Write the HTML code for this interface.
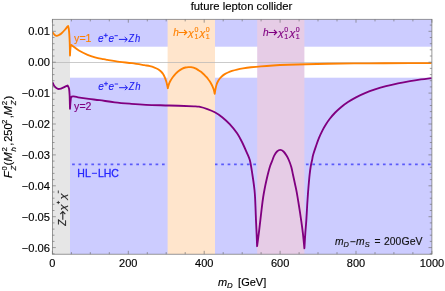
<!DOCTYPE html>
<html><head><meta charset="utf-8"><title>future lepton collider</title>
<style>
html,body{margin:0;padding:0;background:#fff;}
body{width:445px;height:291px;overflow:hidden;font-family:"Liberation Sans",sans-serif;}
svg{display:block;will-change:transform;}
text{stroke-width:0.15px;paint-order:stroke;font-family:"Liberation Sans",sans-serif;}
.i{font-style:italic;}
</style></head><body>
<svg width="445" height="291" viewBox="0 0 445 291">
<rect x="0" y="0" width="445" height="291" fill="#ffffff"/>

<rect x="52.4" y="19.3" width="17.6" height="234.9" fill="#e6e6e6"/>
<rect x="70.0" y="19.3" width="361.9" height="27.4" fill="#ccccff"/>
<rect x="70.0" y="77.7" width="361.9" height="176.5" fill="#ccccff"/>
<line x1="72.1" y1="164.4" x2="167.6" y2="164.4" stroke="#5a5afa" stroke-width="1.7" stroke-dasharray="2.7 3.72"/>
<line x1="214.8" y1="164.4" x2="257.2" y2="164.4" stroke="#5a5afa" stroke-width="1.7" stroke-dasharray="2.7 3.72"/>
<line x1="305.9" y1="164.4" x2="431.9" y2="164.4" stroke="#5a5afa" stroke-width="1.7" stroke-dasharray="2.7 3.72"/>
<rect x="167.6" y="19.3" width="47.4" height="234.9" fill="#ffe5cc"/>
<rect x="257.2" y="19.3" width="47.2" height="234.9" fill="#e6cce6"/>
<line x1="52.4" y1="62.5" x2="431.9" y2="62.5" stroke="#b4b4b4" stroke-width="0.7"/>
<clipPath id="pc"><rect x="52.4" y="19.3" width="379.5" height="234.9"/></clipPath><g clip-path="url(#pc)">
<path d="M52.40,32.00 C52.58,32.27 53.07,33.07 53.50,33.60 C53.93,34.13 54.47,34.83 55.00,35.20 C55.53,35.57 56.03,35.83 56.70,35.80 C57.37,35.77 58.18,35.42 59.00,35.00 C59.82,34.58 60.55,34.25 61.60,33.30 C62.65,32.35 64.40,30.32 65.30,29.30 C66.20,28.28 66.53,27.75 67.00,27.20 C67.47,26.65 67.92,26.20 68.10,26.00 C68.22,26.50 68.60,27.58 68.80,29.00 C69.00,30.42 69.15,32.33 69.30,34.50 C69.45,36.67 69.58,38.50 69.70,42.00 C69.82,45.50 69.95,53.25 70.00,55.50 C70.05,54.58 70.17,51.62 70.30,50.00 C70.43,48.38 70.60,46.63 70.80,45.80 C71.00,44.97 71.38,45.13 71.50,45.00 C71.75,45.20 71.77,45.28 73.00,46.20 C74.23,47.12 76.47,49.07 78.90,50.50 C81.33,51.93 84.92,53.67 87.60,54.80 C90.28,55.93 92.43,56.58 95.00,57.30 C97.57,58.02 100.93,58.67 103.00,59.10 C105.07,59.53 104.62,59.45 107.40,59.90 C110.18,60.35 115.60,61.25 119.70,61.80 C123.80,62.35 127.88,62.63 132.00,63.20 C136.12,63.77 141.40,64.70 144.40,65.20 C147.40,65.70 148.32,65.80 150.00,66.20 C151.68,66.60 153.15,67.10 154.50,67.60 C155.85,68.10 157.02,68.55 158.10,69.20 C159.18,69.85 160.17,70.70 161.00,71.50 C161.83,72.30 162.47,73.03 163.10,74.00 C163.73,74.97 164.28,76.08 164.80,77.30 C165.32,78.52 165.82,80.05 166.20,81.30 C166.58,82.55 166.83,83.65 167.10,84.80 C167.37,85.95 167.68,87.63 167.80,88.20 C167.92,87.77 168.27,86.42 168.50,85.60 C168.73,84.78 168.85,84.15 169.20,83.30 C169.55,82.45 170.10,81.38 170.60,80.50 C171.10,79.62 171.68,78.75 172.20,78.00 C172.72,77.25 173.18,76.65 173.70,76.00 C174.22,75.35 174.53,74.90 175.30,74.10 C176.07,73.30 177.12,72.12 178.30,71.20 C179.48,70.28 181.20,69.22 182.40,68.60 C183.60,67.98 184.50,67.75 185.50,67.50 C186.50,67.25 187.48,67.15 188.40,67.10 C189.32,67.05 190.15,67.10 191.00,67.20 C191.85,67.30 192.67,67.45 193.50,67.70 C194.33,67.95 195.17,68.28 196.00,68.70 C196.83,69.12 197.73,69.72 198.50,70.20 C199.27,70.68 199.92,71.10 200.60,71.60 C201.28,72.10 201.93,72.62 202.60,73.20 C203.27,73.78 203.93,74.43 204.60,75.10 C205.27,75.77 206.00,76.52 206.60,77.20 C207.20,77.88 207.68,78.52 208.20,79.20 C208.72,79.88 209.18,80.50 209.70,81.30 C210.22,82.10 210.80,83.08 211.30,84.00 C211.80,84.92 212.28,85.83 212.70,86.80 C213.12,87.77 213.47,88.63 213.80,89.80 C214.13,90.97 214.55,93.13 214.70,93.80 C214.85,92.92 215.27,90.10 215.60,88.50 C215.93,86.90 216.30,85.38 216.70,84.18 C217.10,82.97 217.48,82.21 218.00,81.27 C218.52,80.33 219.13,79.36 219.80,78.52 C220.47,77.68 221.17,76.94 222.00,76.21 C222.83,75.48 223.80,74.78 224.80,74.16 C225.80,73.54 226.80,73.01 228.00,72.48 C229.20,71.95 230.50,71.45 232.00,70.97 C233.50,70.49 235.17,70.02 237.00,69.60 C238.83,69.17 240.67,68.80 243.00,68.41 C245.33,68.03 248.00,67.64 251.00,67.29 C254.00,66.94 257.33,66.60 261.00,66.30 C264.67,66.00 268.50,65.74 273.00,65.49 C277.50,65.23 282.50,65.00 288.00,64.79 C293.50,64.57 299.33,64.39 306.00,64.22 C312.67,64.05 320.00,63.90 328.00,63.77 C336.00,63.64 344.67,63.54 354.00,63.44 C363.33,63.35 374.67,63.28 384.00,63.22 C393.33,63.17 402.07,63.14 410.00,63.12 C417.93,63.09 428.00,63.08 431.60,63.07" fill="none" stroke="#ff8000" stroke-width="1.85" stroke-linejoin="round"/>
<path d="M52.40,82.20 C52.48,82.37 52.50,82.45 52.90,83.20 C53.30,83.95 53.97,85.75 54.80,86.70 C55.63,87.65 56.87,88.58 57.90,88.90 C58.93,89.22 59.87,88.93 61.00,88.60 C62.13,88.27 63.60,87.42 64.70,86.90 C65.80,86.38 67.12,85.73 67.60,85.50 C67.83,86.00 68.67,86.92 69.00,88.50 C69.33,90.08 69.43,91.62 69.60,95.00 C69.77,98.38 69.93,106.50 70.00,108.80 C70.07,107.83 70.25,104.80 70.40,103.00 C70.55,101.20 70.82,98.83 70.90,98.00 C71.05,97.77 71.37,96.87 71.80,96.60 C72.23,96.33 72.47,96.28 73.50,96.40 C74.53,96.52 75.45,96.88 78.00,97.30 C80.55,97.72 85.20,98.42 88.80,98.90 C92.40,99.38 95.28,99.63 99.60,100.20 C103.92,100.77 109.67,101.72 114.70,102.30 C119.73,102.88 124.58,103.28 129.80,103.70 C135.02,104.12 139.43,104.50 146.00,104.80 C152.57,105.10 161.22,105.25 169.20,105.50 C177.18,105.75 188.77,106.07 193.90,106.30 C199.03,106.53 197.75,106.43 200.00,106.90 C202.25,107.37 204.93,108.20 207.40,109.10 C209.87,110.00 212.33,110.95 214.80,112.30 C217.27,113.65 219.72,115.22 222.20,117.20 C224.68,119.18 227.22,121.52 229.70,124.20 C232.18,126.88 235.05,130.33 237.10,133.30 C239.15,136.27 240.35,138.70 242.00,142.00 C243.65,145.30 245.70,150.10 247.00,153.10 C248.30,156.10 249.10,157.68 249.80,160.00 C250.50,162.32 250.78,164.67 251.20,167.00 C251.62,169.33 251.92,171.50 252.30,174.00 C252.68,176.50 253.13,179.33 253.50,182.00 C253.87,184.67 254.23,187.33 254.50,190.00 C254.77,192.67 254.92,194.67 255.10,198.00 C255.28,201.33 255.45,206.23 255.60,210.00 C255.75,213.77 255.83,216.70 256.00,220.60 C256.17,224.50 256.42,229.13 256.60,233.40 C256.78,237.67 257.02,244.07 257.10,246.20 C257.38,244.07 258.27,237.67 258.80,233.40 C259.33,229.13 259.82,224.75 260.30,220.60 C260.78,216.45 261.22,212.43 261.70,208.50 C262.18,204.57 262.68,200.42 263.20,197.00 C263.72,193.58 264.25,190.83 264.80,188.00 C265.35,185.17 265.92,182.60 266.50,180.00 C267.08,177.40 267.67,174.82 268.30,172.40 C268.93,169.98 269.60,167.57 270.30,165.50 C271.00,163.43 271.85,161.65 272.50,160.00 C273.15,158.35 273.45,157.02 274.20,155.60 C274.95,154.18 275.98,152.45 277.00,151.50 C278.02,150.55 279.22,149.90 280.30,149.90 C281.38,149.90 282.47,150.55 283.50,151.50 C284.53,152.45 285.62,154.18 286.50,155.60 C287.38,157.02 288.00,158.10 288.80,160.00 C289.60,161.90 290.60,164.53 291.30,167.00 C292.00,169.47 292.38,171.97 293.00,174.80 C293.62,177.63 294.38,181.12 295.00,184.00 C295.62,186.88 296.03,188.43 296.70,192.10 C297.37,195.77 298.25,201.25 299.00,206.00 C299.75,210.75 300.55,216.03 301.20,220.60 C301.85,225.17 302.37,228.78 302.90,233.40 C303.43,238.02 304.15,245.82 304.40,248.30 C304.55,245.82 304.98,238.02 305.30,233.40 C305.62,228.78 305.98,225.33 306.30,220.60 C306.62,215.87 306.95,209.10 307.20,205.00 C307.45,200.90 307.60,198.83 307.80,196.00 C308.00,193.17 308.10,191.53 308.40,188.00 C308.70,184.47 309.20,178.47 309.60,174.80 C310.00,171.13 310.38,168.47 310.80,166.00 C311.22,163.53 311.72,161.83 312.10,160.00 C312.48,158.17 312.45,157.31 313.10,155.00 C313.75,152.69 315.02,148.96 316.00,146.11 C316.98,143.27 317.92,140.54 319.00,137.92 C320.08,135.29 321.33,132.63 322.50,130.35 C323.67,128.07 324.75,126.22 326.00,124.25 C327.25,122.28 328.50,120.46 330.00,118.54 C331.50,116.63 333.17,114.64 335.00,112.75 C336.83,110.86 338.83,108.97 341.00,107.18 C343.17,105.39 345.50,103.66 348.00,102.01 C350.50,100.37 353.17,98.80 356.00,97.32 C358.83,95.84 361.83,94.45 365.00,93.14 C368.17,91.82 371.50,90.60 375.00,89.44 C378.50,88.29 382.17,87.21 386.00,86.21 C389.83,85.20 394.00,84.24 398.00,83.40 C402.00,82.56 406.17,81.80 410.00,81.15 C413.83,80.49 417.40,79.96 421.00,79.45 C424.60,78.94 429.83,78.31 431.60,78.08" fill="none" stroke="#800080" stroke-width="1.85" stroke-linejoin="round"/></g>
<rect x="52.4" y="19.3" width="379.5" height="234.9" fill="none" stroke="#787878" stroke-width="0.75"/>
<path d="M52.4,254.2 v-3.4 M52.4,19.3 v3.4 M71.4,254.2 v-2.1 M71.4,19.3 v2.1 M90.3,254.2 v-2.1 M90.3,19.3 v2.1 M109.3,254.2 v-2.1 M109.3,19.3 v2.1 M128.3,254.2 v-3.4 M128.3,19.3 v3.4 M147.3,254.2 v-2.1 M147.3,19.3 v2.1 M166.2,254.2 v-2.1 M166.2,19.3 v2.1 M185.2,254.2 v-2.1 M185.2,19.3 v2.1 M204.2,254.2 v-3.4 M204.2,19.3 v3.4 M223.2,254.2 v-2.1 M223.2,19.3 v2.1 M242.2,254.2 v-2.1 M242.2,19.3 v2.1 M261.1,254.2 v-2.1 M261.1,19.3 v2.1 M280.1,254.2 v-3.4 M280.1,19.3 v3.4 M299.1,254.2 v-2.1 M299.1,19.3 v2.1 M318.0,254.2 v-2.1 M318.0,19.3 v2.1 M337.0,254.2 v-2.1 M337.0,19.3 v2.1 M356.0,254.2 v-3.4 M356.0,19.3 v3.4 M375.0,254.2 v-2.1 M375.0,19.3 v2.1 M393.9,254.2 v-2.1 M393.9,19.3 v2.1 M412.9,254.2 v-2.1 M412.9,19.3 v2.1 M431.9,254.2 v-3.4 M431.9,19.3 v3.4 M52.4,253.8 h2.1 M431.9,253.8 h-2.1 M52.4,247.6 h3.4 M431.9,247.6 h-3.4 M52.4,241.4 h2.1 M431.9,241.4 h-2.1 M52.4,235.2 h2.1 M431.9,235.2 h-2.1 M52.4,229.1 h2.1 M431.9,229.1 h-2.1 M52.4,222.9 h2.1 M431.9,222.9 h-2.1 M52.4,216.7 h3.4 M431.9,216.7 h-3.4 M52.4,210.5 h2.1 M431.9,210.5 h-2.1 M52.4,204.3 h2.1 M431.9,204.3 h-2.1 M52.4,198.2 h2.1 M431.9,198.2 h-2.1 M52.4,192.0 h2.1 M431.9,192.0 h-2.1 M52.4,185.8 h3.4 M431.9,185.8 h-3.4 M52.4,179.6 h2.1 M431.9,179.6 h-2.1 M52.4,173.4 h2.1 M431.9,173.4 h-2.1 M52.4,167.3 h2.1 M431.9,167.3 h-2.1 M52.4,161.1 h2.1 M431.9,161.1 h-2.1 M52.4,154.9 h3.4 M431.9,154.9 h-3.4 M52.4,148.7 h2.1 M431.9,148.7 h-2.1 M52.4,142.5 h2.1 M431.9,142.5 h-2.1 M52.4,136.4 h2.1 M431.9,136.4 h-2.1 M52.4,130.2 h2.1 M431.9,130.2 h-2.1 M52.4,124.0 h3.4 M431.9,124.0 h-3.4 M52.4,117.8 h2.1 M431.9,117.8 h-2.1 M52.4,111.6 h2.1 M431.9,111.6 h-2.1 M52.4,105.5 h2.1 M431.9,105.5 h-2.1 M52.4,99.3 h2.1 M431.9,99.3 h-2.1 M52.4,93.1 h3.4 M431.9,93.1 h-3.4 M52.4,86.9 h2.1 M431.9,86.9 h-2.1 M52.4,80.7 h2.1 M431.9,80.7 h-2.1 M52.4,74.6 h2.1 M431.9,74.6 h-2.1 M52.4,68.4 h2.1 M431.9,68.4 h-2.1 M52.4,62.2 h3.4 M431.9,62.2 h-3.4 M52.4,56.0 h2.1 M431.9,56.0 h-2.1 M52.4,49.8 h2.1 M431.9,49.8 h-2.1 M52.4,43.7 h2.1 M431.9,43.7 h-2.1 M52.4,37.5 h2.1 M431.9,37.5 h-2.1 M52.4,31.3 h3.4 M431.9,31.3 h-3.4 M52.4,25.1 h2.1 M431.9,25.1 h-2.1" fill="none" stroke="#767676" stroke-width="0.7"/>
<text x="52.4" y="267.3" font-size="11" text-anchor="middle" fill="#000" stroke="#000">0</text>
<text x="128.3" y="267.3" font-size="11" text-anchor="middle" fill="#000" stroke="#000">200</text>
<text x="204.2" y="267.3" font-size="11" text-anchor="middle" fill="#000" stroke="#000">400</text>
<text x="280.1" y="267.3" font-size="11" text-anchor="middle" fill="#000" stroke="#000">600</text>
<text x="356.0" y="267.3" font-size="11" text-anchor="middle" fill="#000" stroke="#000">800</text>
<text x="431.9" y="267.3" font-size="11" text-anchor="middle" fill="#000" stroke="#000">1000</text>
<text x="50.0" y="251.6" font-size="11.2" text-anchor="end" fill="#000" stroke="#000">−0.06</text>
<text x="50.0" y="220.7" font-size="11.2" text-anchor="end" fill="#000" stroke="#000">−0.05</text>
<text x="50.0" y="189.8" font-size="11.2" text-anchor="end" fill="#000" stroke="#000">−0.04</text>
<text x="50.0" y="158.9" font-size="11.2" text-anchor="end" fill="#000" stroke="#000">−0.03</text>
<text x="50.0" y="128.0" font-size="11.2" text-anchor="end" fill="#000" stroke="#000">−0.02</text>
<text x="50.0" y="97.1" font-size="11.2" text-anchor="end" fill="#000" stroke="#000">−0.01</text>
<text x="50.0" y="66.2" font-size="11.2" text-anchor="end" fill="#000" stroke="#000">0.00</text>
<text x="50.0" y="35.3" font-size="11.2" text-anchor="end" fill="#000" stroke="#000">0.01</text>
<text x="241.5" y="10.0" font-size="11.3" text-anchor="middle" fill="#000" stroke="#000">future lepton collider</text>
<text x="218.00" y="285.90" font-size="11" fill="#000" stroke="#000" font-style="italic">m</text>
<text x="227.10" y="287.90" font-size="7.8" fill="#000" stroke="#000" font-style="italic">D</text>
<text x="238.10" y="285.90" font-size="11" fill="#000" stroke="#000">[GeV]</text>
<g transform="translate(12.1,178) rotate(-90)">
<text x="0.00" y="0.00" font-size="11" fill="#000000" stroke="#000000" font-style="italic">F</text>
<text x="7.40" y="-5.10" font-size="7.8" fill="#000000" stroke="#000000">0</text>
<text x="7.40" y="4.00" font-size="7.8" fill="#000000" stroke="#000000" font-style="italic">Z</text>
<text x="12.60" y="0.00" font-size="11.5" fill="#000000" stroke="#000000">(</text>
<text x="16.60" y="0.00" font-size="11" fill="#000000" stroke="#000000" font-style="italic">M</text>
<text x="26.50" y="-5.10" font-size="7.8" fill="#000000" stroke="#000000">2</text>
<text x="26.40" y="4.00" font-size="7.8" fill="#000000" stroke="#000000" font-style="italic">h</text>
<text x="32.20" y="0.00" font-size="11" fill="#000000" stroke="#000000">,</text>
<text x="36.20" y="0.00" font-size="11" fill="#000000" stroke="#000000">250</text>
<text x="54.10" y="-5.10" font-size="7.8" fill="#000000" stroke="#000000">2</text>
<text x="59.70" y="0.00" font-size="11" fill="#000000" stroke="#000000">,</text>
<text x="62.80" y="0.00" font-size="11" fill="#000000" stroke="#000000" font-style="italic">M</text>
<text x="72.80" y="-5.10" font-size="7.8" fill="#000000" stroke="#000000">2</text>
<text x="72.70" y="4.00" font-size="7.8" fill="#000000" stroke="#000000" font-style="italic">Z</text>
<text x="78.40" y="0.00" font-size="11.5" fill="#000000" stroke="#000000">)</text>
</g>
<text x="74.10" y="42.00" font-size="10.6" fill="#ff8000" stroke="#ff8000">y=1</text>
<text x="74.10" y="109.80" font-size="10.6" fill="#800080" stroke="#800080">y=2</text>
<text x="98.10" y="41.90" font-size="10" fill="#1c1cf2" stroke="#1c1cf2" font-style="italic" style="stroke-width:0.1px">e</text><path d="M103.80,35.40 H107.80 M105.80,33.40 V37.40" stroke="#1c1cf2" stroke-width="0.90" fill="none"/><text x="108.40" y="41.90" font-size="10" fill="#1c1cf2" stroke="#1c1cf2" font-style="italic" style="stroke-width:0.1px">e</text><path d="M114.50,35.70 H117.90" stroke="#1c1cf2" stroke-width="0.90" fill="none"/><path d="M118.90,39.40 H127.00 M124.70,37.00 L127.30,39.40 L124.70,41.80" stroke="#1c1cf2" stroke-width="1.00" fill="none" stroke-linejoin="miter" stroke-linecap="butt"/><text transform="translate(128.50,41.90) scale(0.900,1)" font-size="10" fill="#1c1cf2" stroke="#1c1cf2" font-style="italic">Z</text><text transform="translate(135.10,41.90) scale(0.950,1)" font-size="10" fill="#1c1cf2" stroke="#1c1cf2" font-style="italic">h</text>
<text x="98.30" y="90.20" font-size="10" fill="#1c1cf2" stroke="#1c1cf2" font-style="italic" style="stroke-width:0.1px">e</text><path d="M104.00,83.70 H108.00 M106.00,81.70 V85.70" stroke="#1c1cf2" stroke-width="0.90" fill="none"/><text x="108.60" y="90.20" font-size="10" fill="#1c1cf2" stroke="#1c1cf2" font-style="italic" style="stroke-width:0.1px">e</text><path d="M114.70,84.00 H118.10" stroke="#1c1cf2" stroke-width="0.90" fill="none"/><path d="M119.10,87.70 H127.20 M124.90,85.30 L127.50,87.70 L124.90,90.10" stroke="#1c1cf2" stroke-width="1.00" fill="none" stroke-linejoin="miter" stroke-linecap="butt"/><text transform="translate(128.70,90.20) scale(0.900,1)" font-size="10" fill="#1c1cf2" stroke="#1c1cf2" font-style="italic">Z</text><text transform="translate(135.30,90.20) scale(0.950,1)" font-size="10" fill="#1c1cf2" stroke="#1c1cf2" font-style="italic">h</text>
<text x="173.20" y="35.50" font-size="10" fill="#ff8000" stroke="#ff8000" font-style="italic">h</text><path d="M178.60,32.50 H186.50 M184.10,30.00 L186.80,32.50 L184.10,35.00" stroke="#ff8000" stroke-width="1.10" fill="none" stroke-linejoin="miter" stroke-linecap="butt"/><text transform="translate(188.10,35.90) scale(1.200,1)" font-size="9" fill="#ff8000" stroke="#ff8000" font-style="italic" style="stroke-width:0.15px">χ</text><text x="194.40" y="31.60" font-size="7" fill="#ff8000" stroke="#ff8000">0</text><text x="194.40" y="38.70" font-size="7" fill="#ff8000" stroke="#ff8000">1</text><text transform="translate(199.50,35.90) scale(1.200,1)" font-size="9" fill="#ff8000" stroke="#ff8000" font-style="italic" style="stroke-width:0.15px">χ</text><text x="205.80" y="31.60" font-size="7" fill="#ff8000" stroke="#ff8000">0</text><text x="205.80" y="38.70" font-size="7" fill="#ff8000" stroke="#ff8000">1</text>
<text x="263.10" y="35.50" font-size="10" fill="#800080" stroke="#800080" font-style="italic">h</text><path d="M268.50,32.50 H276.40 M274.00,30.00 L276.70,32.50 L274.00,35.00" stroke="#800080" stroke-width="1.10" fill="none" stroke-linejoin="miter" stroke-linecap="butt"/><text transform="translate(278.00,35.90) scale(1.200,1)" font-size="9" fill="#800080" stroke="#800080" font-style="italic" style="stroke-width:0.15px">χ</text><text x="284.30" y="31.60" font-size="7" fill="#800080" stroke="#800080">0</text><text x="284.30" y="38.70" font-size="7" fill="#800080" stroke="#800080">1</text><text transform="translate(289.40,35.90) scale(1.200,1)" font-size="9" fill="#800080" stroke="#800080" font-style="italic" style="stroke-width:0.15px">χ</text><text x="295.70" y="31.60" font-size="7" fill="#800080" stroke="#800080">0</text><text x="295.70" y="38.70" font-size="7" fill="#800080" stroke="#800080">1</text>
<text x="77.30" y="177.00" font-size="10.5" fill="#2626ff" stroke="#2626ff" style="stroke-width:0.3px">HL</text>
<path d="M91.9,173.3 H97.0" stroke="#2a2aff" stroke-width="1.0" fill="none"/>
<text x="97.90" y="177.00" font-size="10.5" fill="#2626ff" stroke="#2626ff" style="stroke-width:0.3px">LHC</text>
<g transform="translate(65.7,226) rotate(-90)">
<text x="0.20" y="0.00" font-size="10" fill="#222222" stroke="#222222" font-style="italic">Z</text>
<path d="M6.20,-2.90 H14.20 M11.80,-5.40 L14.50,-2.90 L11.80,-0.40" stroke="#222222" stroke-width="1.10" fill="none" stroke-linejoin="miter" stroke-linecap="butt"/>
<text transform="translate(15.50,0.40) scale(1.230,1)" font-size="9" fill="#222222" stroke="#222222" font-style="italic" style="stroke-width:0.15px">χ</text>
<path d="M21.90,-7.40 H25.10 M23.50,-9.00 V-5.80" stroke="#222222" stroke-width="0.85" fill="none"/>
<text transform="translate(26.40,0.40) scale(1.230,1)" font-size="9" fill="#222222" stroke="#222222" font-style="italic" style="stroke-width:0.15px">χ</text>
<path d="M32.70,-7.40 H35.50" stroke="#222222" stroke-width="0.85" fill="none"/>
</g>
<text x="334.90" y="244.90" font-size="10.3" fill="#111111" stroke="#111111" font-style="italic">m</text>
<text x="343.40" y="246.90" font-size="7.4" fill="#111111" stroke="#111111" font-style="italic">D</text>
<path d="M350.4,241.7 H355.5" stroke="#111111" stroke-width="0.95" fill="none"/>
<text x="356.10" y="244.90" font-size="10.3" fill="#111111" stroke="#111111" font-style="italic">m</text>
<text x="364.80" y="246.90" font-size="7.4" fill="#111111" stroke="#111111" font-style="italic">S</text>
<text x="374.60" y="244.90" font-size="10.3" fill="#111111" stroke="#111111">=</text>
<text x="384.10" y="244.90" font-size="10.3" fill="#111111" stroke="#111111">200</text>
<text x="401.50" y="244.90" font-size="10.5" fill="#111111" stroke="#111111">GeV</text>
</svg>
</body></html>
